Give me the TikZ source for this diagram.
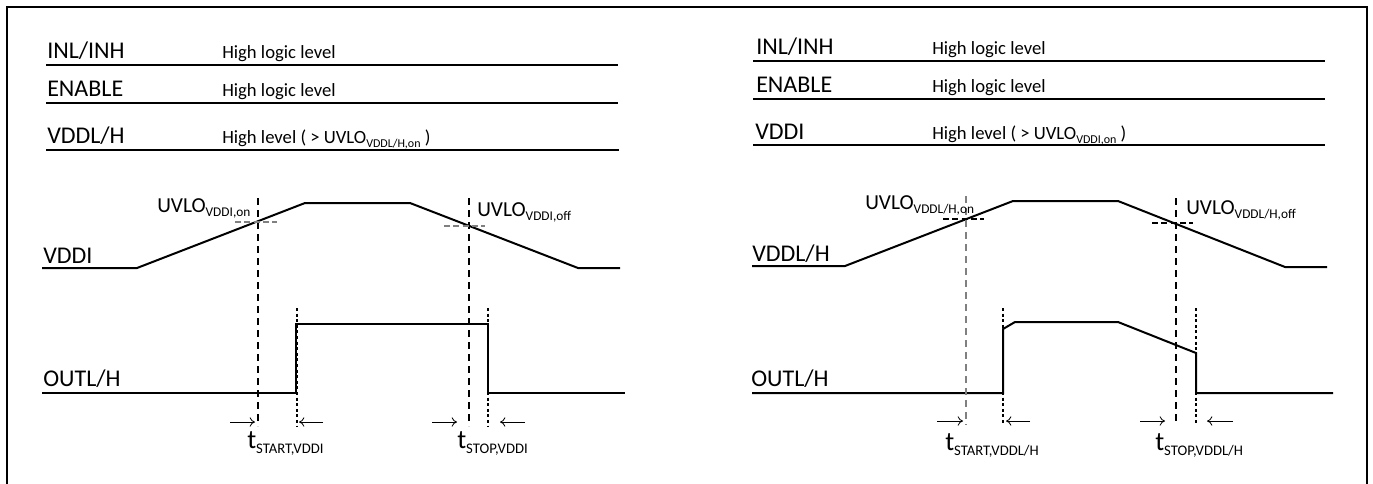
\documentclass[tikz,border=0pt]{standalone}
\usepackage{fontspec}
\setmainfont{Carlito}
\usetikzlibrary{arrows.meta}

\newcommand{\subtxt}[2]{\raisebox{-0.45ex}{\fontsize{#1}{#1}\selectfont #2}}

\tikzset{
  sig/.style={line width=1.5pt},
  sep/.style={line width=1.5pt},
  lbl/.style={anchor=base west, inner sep=0pt, font=\fontsize{18}{18}\selectfont},
  desc/.style={anchor=base west, inner sep=0pt, font=\fontsize{14}{14}\selectfont},
  uvlo/.style={anchor=base west, inner sep=0pt, font=\fontsize{16}{16}\selectfont},
  tlbl/.style={anchor=base west, inner sep=0pt, font=\fontsize{20}{20}\selectfont},
  guide/.style={line width=0.8pt, dash pattern=on 5.5pt off 3.5pt},
  edgeline/.style={line width=0.8pt, dash pattern=on 2.2pt off 2pt},
  thr/.style={line width=0.8pt, dash pattern=on 4.5pt off 2.5pt},
  tarrow/.style={line width=0.6pt, -{To[length=4pt,width=7pt]}},
}

\begin{document}
\begin{tikzpicture}[x=0.75pt,y=-0.75pt]
  \useasboundingbox (0,0) rectangle (1373,483);
  \draw[sep] (7,484) -- (7,7) -- (1367,7) -- (1367,484);

  % left: VDDI under-voltage
  \node[lbl] (inL) at (47,58) {INL/INH};
  \node[desc] (inLd) at (222,58) {High logic level};
  \draw[sep] (46,65) -- (618,65);
  \node[lbl] (enL) at (47,96) {ENABLE};
  \node[desc] (enLd) at (222,96) {High logic level};
  \draw[sep] (46,103) -- (618,103);
  \node[lbl] (vddL) at (47,143) {VDDL/H};
  \node[desc] (vddLd) at (222,143) {High level ( > UVLO\subtxt{9}{VDDL/H,on} )};
  \draw[sep] (46,150) -- (619,150);

  \node[lbl] (supL) at (43,263) {VDDI};
  \node[lbl] (outL) at (43,386) {OUTL/H};
  \draw[sig] (42,268) -- (137,268) -- (305,203) -- (410,203) -- (578,268) -- (620,268);
  \draw[sig] (42,393) -- (296,393) -- (296,324) -- (488,324) -- (488,393) -- (625,393);

  \draw[guide] (258,198) -- (258,426);
  \draw[guide] (469,198) -- (469,426);
  \draw[thr, gray] (235,222) -- (277,222);
  \draw[thr, gray] (444,226) -- (485,226);
  \draw[edgeline] (297,308) -- (297,427);
  \draw[edgeline] (488,308) -- (488,427);
  \node[uvlo] (onL) at (157,212) {UVLO\subtxt{10}{VDDI,on}};
  \node[uvlo] (offL) at (477,216) {UVLO\subtxt{10}{VDDI,off}};

  \draw[tarrow] (230,422) -- (255,422);
  \draw[tarrow] (323,422) -- (299,422);
  \draw[tarrow] (432,422) -- (457,422);
  \draw[tarrow] (525,422) -- (500,422);
  \node[tlbl] (startL) at (247,448) {t\subtxt{11}{START,VDDI}};
  \node[tlbl] (stopL) at (457,448) {t\subtxt{11}{STOP,VDDI}};

  % right: VDDL/H under-voltage
  \node[lbl] (inR) at (756,54) {INL/INH};
  \node[desc] (inRd) at (932,54) {High logic level};
  \draw[sep] (753,61) -- (1325,61);
  \node[lbl] (enR) at (756,92) {ENABLE};
  \node[desc] (enRd) at (932,92) {High logic level};
  \draw[sep] (753,99) -- (1325,99);
  \node[lbl] (vddR) at (755,139) {VDDI};
  \node[desc] (vddRd) at (932,139) {High level ( > UVLO\subtxt{9}{VDDI,on} )};
  \draw[sep] (753,145) -- (1325,145);

  \node[lbl] (supR) at (752,261) {VDDL/H};
  \node[lbl] (outR) at (751,386) {OUTL/H};
  \draw[sig] (752,266) -- (845,266) -- (1013,201) -- (1118,201) -- (1285,267) -- (1327,267);
  \draw[sig] (752,393) -- (1003,393) -- (1003,329) -- (1015,322) -- (1118,322) -- (1196,353) -- (1196,393) -- (1333,393);

  \draw[guide, gray] (966,196) -- (966,425);
  \draw[guide] (1176,198) -- (1176,425);
  \draw[thr] (943,219) -- (984,219);
  \draw[thr] (1152,223) -- (1193,223);
  \draw[edgeline] (1003,308) -- (1003,425);
  \draw[edgeline] (1196,308) -- (1196,425);
  \node[uvlo] (onR) at (865,209) {UVLO\subtxt{10}{VDDL/H,on}};
  \node[uvlo] (offR) at (1186,214) {UVLO\subtxt{10}{VDDL/H,off}};

  \draw[tarrow] (937,421) -- (963,421);
  \draw[tarrow] (1030,421) -- (1006,421);
  \draw[tarrow] (1140,421) -- (1165,421);
  \draw[tarrow] (1233,421) -- (1207,421);
  \node[tlbl] (startR) at (945,450) {t\subtxt{11}{START,VDDL/H}};
  \node[tlbl] (stopR) at (1155,450) {t\subtxt{11}{STOP,VDDL/H}};
\end{tikzpicture}
\end{document}
